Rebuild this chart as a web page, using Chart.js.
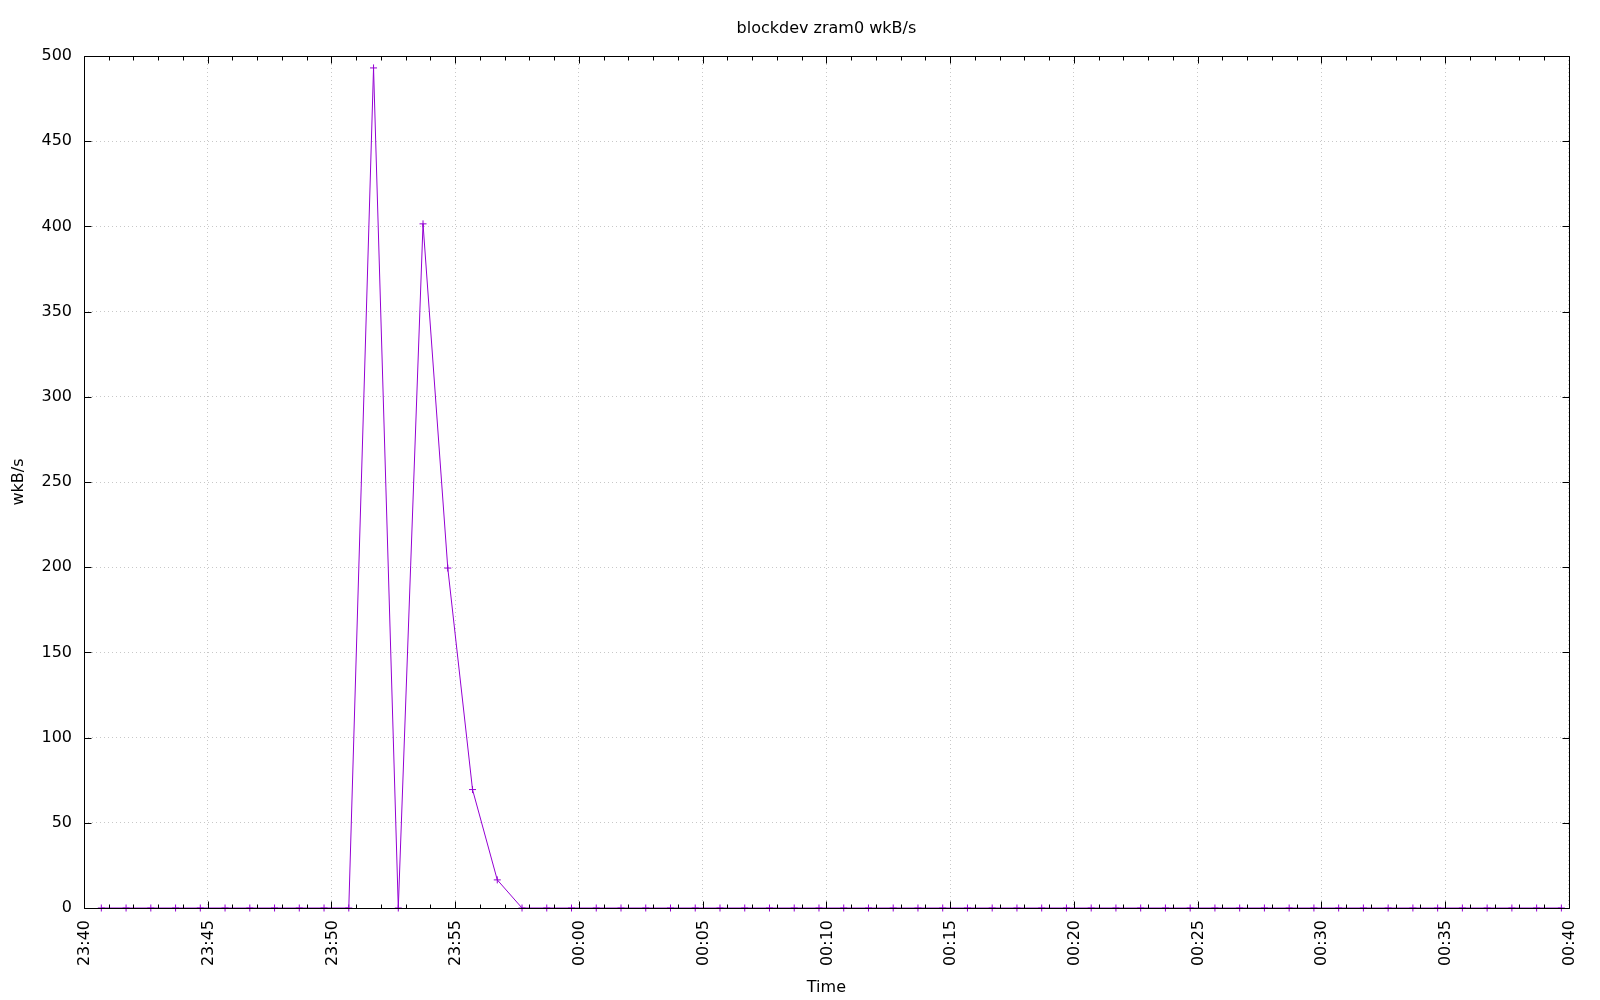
<!DOCTYPE html>
<html>
<head>
<meta charset="utf-8">
<title>blockdev zram0 wkB/s</title>
<script src="https://cdn.jsdelivr.net/npm/chart.js@4.4.1/dist/chart.umd.min.js"></script>
<style>
    html, body { margin: 0; padding: 0; background: #ffffff; }
    #wrap { width: 1600px; height: 1000px; }
</style>
</head>
<body>
<div id="wrap"><canvas id="zramChart" width="1600" height="1000"></canvas></div>
<script>
// sample times (HH:MM:SS) and write rate in wkB/s
var sampleTimes = [
    '23:40:42', '23:41:42', '23:42:42', '23:43:42', '23:44:42', '23:45:42', '23:46:42', '23:47:42', '23:48:42', '23:49:42',
    '23:50:42', '23:51:42', '23:52:42', '23:53:42', '23:54:42', '23:55:42', '23:56:42', '23:57:42', '23:58:42', '23:59:42',
    '00:00:42', '00:01:42', '00:02:42', '00:03:42', '00:04:42', '00:05:42', '00:06:42', '00:07:42', '00:08:42', '00:09:42',
    '00:10:42', '00:11:42', '00:12:42', '00:13:42', '00:14:42', '00:15:42', '00:16:42', '00:17:42', '00:18:42', '00:19:42',
    '00:20:42', '00:21:42', '00:22:42', '00:23:42', '00:24:42', '00:25:42', '00:26:42', '00:27:42', '00:28:42', '00:29:42',
    '00:30:42', '00:31:42', '00:32:42', '00:33:42', '00:34:42', '00:35:42', '00:36:42', '00:37:42', '00:38:42', '00:39:42'
];
var wkbValues = [
    0, 0, 0, 0, 0, 0, 0, 0, 0, 0,
    0, 493, 0, 401.5, 199.5, 69.5, 16.5, 0, 0, 0,
    0, 0, 0, 0, 0, 0, 0, 0, 0, 0,
    0, 0, 0, 0, 0, 0, 0, 0, 0, 0,
    0, 0, 0, 0, 0, 0, 0, 0, 0, 0,
    0, 0, 0, 0, 0, 0, 0, 0, 0, 0
];
var startTime = '23:40';
var endTime = '00:40';
var xTickLabels = ['23:40', '23:45', '23:50', '23:55', '00:00', '00:05', '00:10', '00:15', '00:20', '00:25', '00:30', '00:35', '00:40'];
var yTickValues = [0, 50, 100, 150, 200, 250, 300, 350, 400, 450, 500];

var FONT = 'DejaVu Sans';
var PURPLE = '#9400d3';

// minutes after startTime, wrapping past midnight
function minutesFromStart(t) {
    var p = t.split(':');
    var s = startTime.split(':');
    var m = (+p[0]) * 60 + (+p[1]) + (p.length > 2 ? (+p[2]) / 60 : 0);
    var m0 = (+s[0]) * 60 + (+s[1]);
    var d = m - m0;
    if (d < 0) d += 24 * 60;
    return d;
}

var points = [];
for (var i = 0; i < sampleTimes.length; i++) {
    points.push({ x: minutesFromStart(sampleTimes[i]), y: wkbValues[i] });
}
var xMax = minutesFromStart(endTime);

// gnuplot style frame: border on all sides + inward ticks
var framePlugin = {
    id: 'frame',
    afterDatasetsDraw: function (chart) {
        var ctx = chart.ctx;
        var a = chart.chartArea;
        var xs = chart.scales.x;
        var ys = chart.scales.y;
        var l = Math.round(a.left) + 0.5, r = Math.round(a.right) + 0.5;
        var t = Math.round(a.top) + 0.5, b = Math.round(a.bottom) + 0.5;

        ctx.save();
        ctx.strokeStyle = '#000000';
        ctx.lineWidth = 1;
        ctx.beginPath();

        for (var m = 0; m <= xMax; m++) {
            var px = Math.round(xs.getPixelForValue(m)) + 0.5;
            var len = (m % 5 === 0) ? 7 : 4;
            ctx.moveTo(px, b); ctx.lineTo(px, b - len);
            ctx.moveTo(px, t); ctx.lineTo(px, t + len);
        }
        yTickValues.forEach(function (v) {
            var py = Math.round(ys.getPixelForValue(v)) + 0.5;
            ctx.moveTo(l, py); ctx.lineTo(l + 7, py);
            ctx.moveTo(r, py); ctx.lineTo(r - 7, py);
        });
        ctx.rect(l, t, r - l, b - t);
        ctx.stroke();
        ctx.restore();
    }
};

var ctx = document.getElementById('zramChart').getContext('2d');
var chart = new Chart(ctx, {
    type: 'line',
    data: {
        datasets: [
            {
                label: 'wkB/s',
                data: points,
                borderColor: PURPLE,
                backgroundColor: PURPLE,
                borderWidth: 1,
                pointStyle: 'cross',
                pointRadius: 3.5,
                pointBorderWidth: 1,
                tension: 0,
                clip: false,
            },
        ]
    },
    options: {
        responsive: false,
        animation: false,
        layout: {
            padding: { left: 0, right: 31, top: 0, bottom: 0 }
        },
        plugins: {
            legend: { display: false },
            title: { display: false },
            tooltip: { enabled: false }
        },
        scales: {
            x: {
                type: 'linear',
                position: 'bottom',
                min: 0,
                max: xMax,
                afterBuildTicks: function (scale) {
                    scale.ticks = xTickLabels.map(function (lbl) { return { value: minutesFromStart(lbl) }; });
                },
                ticks: {
                    autoSkip: false,
                    maxRotation: 90,
                    minRotation: 90,
                    padding: 12,
                    labelOffset: 1,
                    color: '#000000',
                    font: { family: FONT, size: 16 },
                    callback: function (v) {
                        for (var i = 0; i < xTickLabels.length; i++) {
                            if (Math.abs(minutesFromStart(xTickLabels[i]) - v) < 0.01) return xTickLabels[i];
                        }
                        return '';
                    }
                },
                grid: { color: '#c8c8c8', lineWidth: 1, drawTicks: false },
                border: { display: false, dash: [1, 3] },
                title: {
                    display: true,
                    text: 'Time',
                    color: '#000000',
                    font: { family: FONT, size: 16 },
                    padding: { top: 0, bottom: 3 }
                },
                afterFit: function (scale) { scale.height = 92; }
            },
            top: {
                type: 'linear',
                axis: 'x',
                position: 'top',
                min: 0,
                max: xMax,
                ticks: { display: false },
                grid: { display: false, drawTicks: false },
                border: { display: false },
                title: {
                    display: true,
                    text: 'blockdev zram0 wkB/s',
                    color: '#000000',
                    font: { family: FONT, size: 16 },
                    padding: { top: 19, bottom: 0 }
                },
                afterFit: function (scale) { scale.height = 56; }
            },
            y: {
                type: 'linear',
                position: 'left',
                min: 0,
                max: 500,
                afterBuildTicks: function (scale) {
                    scale.ticks = yTickValues.map(function (v) { return { value: v }; });
                },
                ticks: {
                    padding: 12,
                    color: '#000000',
                    font: { family: FONT, size: 16 }
                },
                grid: { color: '#c8c8c8', lineWidth: 1, drawTicks: false },
                border: { display: false, dash: [1, 3] },
                title: {
                    display: true,
                    text: 'wkB/s',
                    color: '#000000',
                    font: { family: FONT, size: 16 },
                    padding: { top: 9, bottom: 0 }
                },
                afterFit: function (scale) { scale.width = 84; }
            }
        }
    },
    plugins: [framePlugin]
});
</script>
</body>
</html>
